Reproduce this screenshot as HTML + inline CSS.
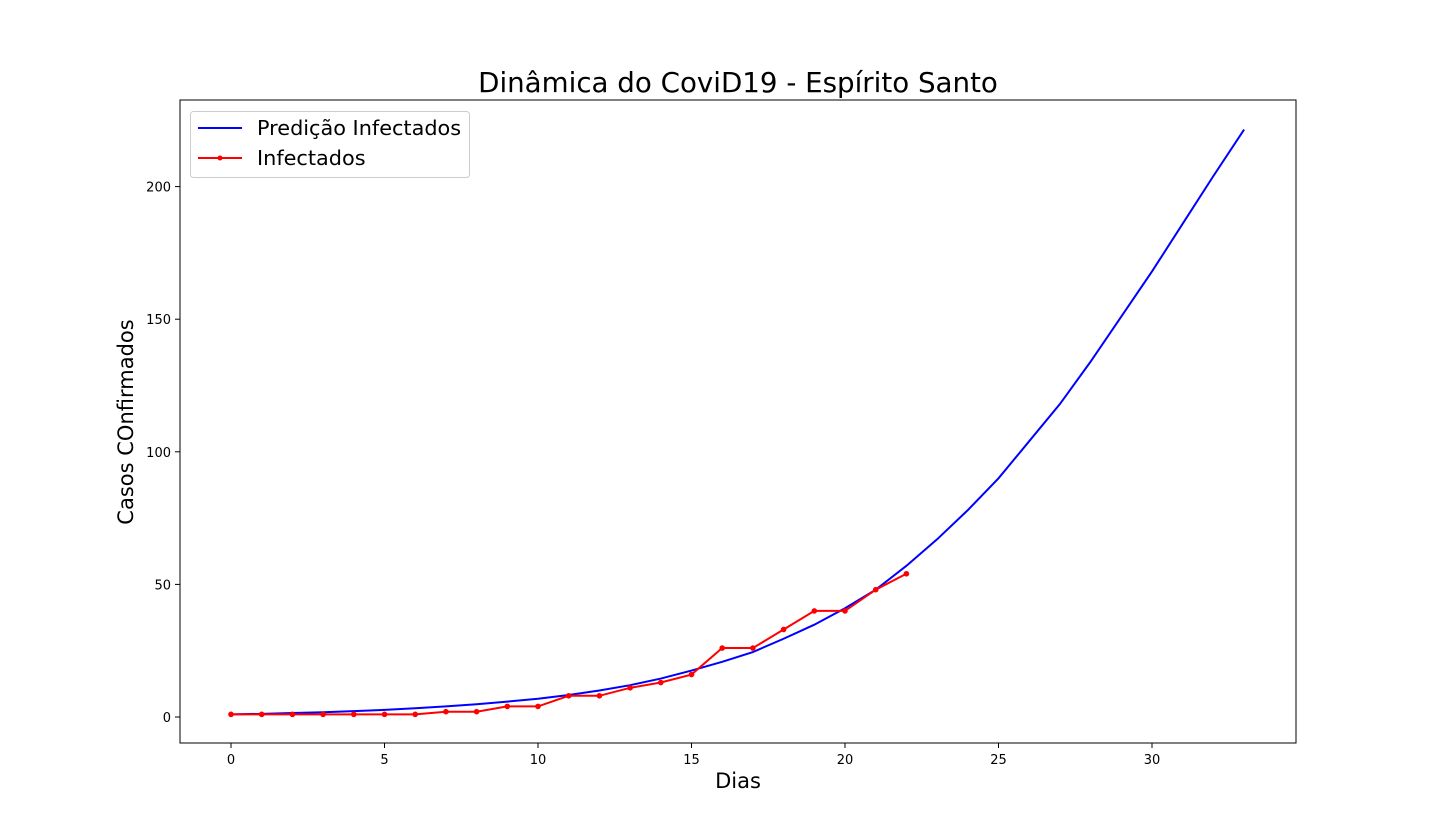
<!DOCTYPE html>
<html><head><meta charset="utf-8"><style>
html,body{margin:0;padding:0;background:#fff;}
svg{display:block;font-family:"DejaVu Sans","Liberation Sans",sans-serif;}
</style></head><body>
<svg id="chart" width="1440" height="835">
<rect x="0" y="0" width="1440" height="835" fill="#fff"/>
<text x="738" y="92" font-size="27.7" text-anchor="middle">Dinâmica do CoviD19 - Espírito Santo</text>
<text x="738" y="788" font-size="21" text-anchor="middle">Dias</text>
<text x="0" y="0" font-size="21" text-anchor="middle" transform="translate(133,422) rotate(-90)">Casos COnfirmados</text>
<g id="ticks"></g>
<g id="series"></g>
<rect x="180" y="100" width="1116" height="643" fill="none" stroke="#000" stroke-width="1"/>
<g>
<rect x="190.5" y="111.5" width="279" height="66" rx="3" fill="#fff" stroke="#ccc"/>
<line x1="198" y1="128" x2="242" y2="128" stroke="#0000ff" stroke-width="2"/>
<text x="257" y="135" font-size="20.8">Predição Infectados</text>
<line x1="198" y1="158" x2="242" y2="158" stroke="#ff0000" stroke-width="2"/>
<circle cx="220" cy="158" r="2.5" fill="#ff0000"/>
<text x="257" y="165" font-size="20.8">Infectados</text>
</g>
</svg>
<script>
const infectedDays = [0,1,2,3,4,5,6,7,8,9,10,11,12,13,14,15,16,17,18,19,20,21,22];
const infectedValues = [1,1,1,1,1,1,1,2,2,4,4,8,8,11,13,16,26,26,33,40,40,48,54];
const predDays = [0,1,2,3,4,5,6,7,8,9,10,11,12,13,14,15,16,17,18,19,20,21,22,23,24,25,26,27,28,29,30,31,32,33];
const predValues = [1,1.2,1.5,1.8,2.2,2.7,3.3,4,4.8,5.8,6.9,8.3,10,12,14.5,17.5,20.8,24.5,29.5,34.8,41,48,57,67,78,90,104,118,134,151,168,186,204,221.5];
const xTicks = [0,5,10,15,20,25,30];
const yTicks = [0,50,100,150,200];

const NS = "http://www.w3.org/2000/svg";
function xs(v){return 231 + v*30.7;}
function ys(v){return 717 - v*2.652;}
const tg = document.getElementById('ticks');
const sg = document.getElementById('series');
function mk(tag, attrs, parent){const e=document.createElementNS(NS,tag);for(const k in attrs)e.setAttribute(k,attrs[k]);parent.appendChild(e);return e;}
xTicks.forEach(t=>{
  const l=mk('line',{x1:xs(t),x2:xs(t),y1:743,y2:748,stroke:'#000'},tg);
  
  
  const tx=mk('text',{x:xs(t),y:764,'font-size':13,'text-anchor':'middle'},tg);
  tx.textContent=t;
  
  
});
yTicks.forEach(t=>{
  const l=mk('line',{x1:175,x2:180,y1:ys(t),y2:ys(t),stroke:'#000'},tg);
  
  
  const tx=mk('text',{x:171,y:ys(t)+5,'font-size':13,'text-anchor':'end'},tg);
  tx.textContent=t;
  
  
});
const pl=mk('polyline',{points:predDays.map((d,i)=>xs(d)+','+ys(predValues[i])).join(' '),fill:'none',stroke:'#0000ff','stroke-width':2},sg);


const il=mk('polyline',{points:infectedDays.map((d,i)=>xs(d)+','+ys(infectedValues[i])).join(' '),fill:'none',stroke:'#ff0000','stroke-width':2},sg);


infectedDays.forEach((d,i)=>{
  const c=mk('circle',{cx:xs(d),cy:ys(infectedValues[i]),r:2.8,fill:'#ff0000'},sg);
  
  
});
</script>
</body></html>
